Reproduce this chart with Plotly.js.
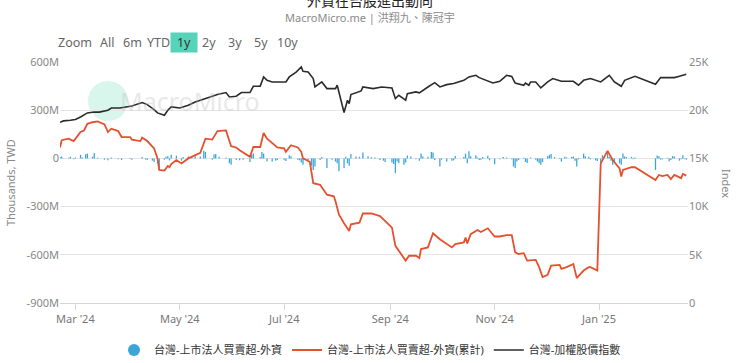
<!DOCTYPE html>
<html>
<head>
<meta charset="utf-8">
<script src="https://cdn.plot.ly/plotly-3.0.1.min.js"></script>
<style>
html,body{margin:0;padding:0;background:#fff;}
#chart{width:740px;height:363px;}
</style>
</head>
<body>
<div id="chart"></div>
<script>
// ---- Data ----
// Daily foreign net buy/sell (unit: M of thousand TWD)
const barDates = ["2024-02-21","2024-02-22","2024-02-26","2024-02-27","2024-02-29","2024-03-01","2024-03-04","2024-03-05","2024-03-07","2024-03-08","2024-03-11","2024-03-12","2024-03-14","2024-03-18","2024-03-20","2024-03-22","2024-03-26","2024-03-28","2024-04-02","2024-04-03","2024-04-09","2024-04-11","2024-04-12","2024-04-15","2024-04-16","2024-04-18","2024-04-19","2024-04-22","2024-04-23","2024-04-24","2024-04-25","2024-04-26","2024-04-29","2024-05-02","2024-05-03","2024-05-06","2024-05-08","2024-05-10","2024-05-13","2024-05-15","2024-05-16","2024-05-20","2024-05-21","2024-05-22","2024-05-24","2024-05-28","2024-05-30","2024-05-31","2024-06-03","2024-06-05","2024-06-07","2024-06-11","2024-06-12","2024-06-13","2024-06-17","2024-06-18","2024-06-19","2024-06-21","2024-06-24","2024-06-26","2024-06-27","2024-07-01","2024-07-02","2024-07-04","2024-07-05","2024-07-09","2024-07-10","2024-07-11","2024-07-12","2024-07-15","2024-07-17","2024-07-18","2024-07-19","2024-07-22","2024-07-23","2024-07-26","2024-07-29","2024-07-31","2024-08-01","2024-08-02","2024-08-05","2024-08-06","2024-08-07","2024-08-08","2024-08-09","2024-08-12","2024-08-14","2024-08-16","2024-08-19","2024-08-21","2024-08-23","2024-08-26","2024-08-28","2024-08-29","2024-09-02","2024-09-03","2024-09-04","2024-09-05","2024-09-06","2024-09-09","2024-09-10","2024-09-11","2024-09-13","2024-09-16","2024-09-18","2024-09-19","2024-09-20","2024-09-23","2024-09-25","2024-09-26","2024-09-27","2024-09-30","2024-10-01","2024-10-04","2024-10-07","2024-10-08","2024-10-09","2024-10-14","2024-10-15","2024-10-16","2024-10-17","2024-10-18","2024-10-21","2024-10-22","2024-10-23","2024-10-24","2024-10-25","2024-10-28","2024-10-29","2024-11-01","2024-11-04","2024-11-06","2024-11-08","2024-11-11","2024-11-12","2024-11-13","2024-11-14","2024-11-15","2024-11-18","2024-11-19","2024-11-20","2024-11-22","2024-11-25","2024-11-26","2024-11-27","2024-11-28","2024-11-29","2024-12-02","2024-12-03","2024-12-04","2024-12-06","2024-12-09","2024-12-10","2024-12-12","2024-12-13","2024-12-16","2024-12-17","2024-12-18","2024-12-19","2024-12-20","2024-12-23","2024-12-24","2024-12-26","2024-12-27","2024-12-30","2024-12-31","2025-01-02","2025-01-03","2025-01-06","2025-01-07","2025-01-08","2025-01-09","2025-01-10","2025-01-13","2025-01-14","2025-01-15","2025-01-16","2025-01-17","2025-01-20","2025-01-21","2025-01-22","2025-02-03","2025-02-04","2025-02-05","2025-02-06","2025-02-07","2025-02-10","2025-02-11","2025-02-12","2025-02-13","2025-02-14","2025-02-17","2025-02-18","2025-02-19","2025-02-20","2025-02-21"];
const barVals = [8,12,4,10,-6,6,22,6,26,30,10,34,4,-8,-12,6,-6,-10,-4,-8,8,-6,-10,-14,-22,-30,-72,-8,10,14,-12,22,16,-14,8,12,10,14,12,48,40,-8,24,28,10,6,-30,-40,-10,-12,-8,-22,22,30,8,40,30,-18,-20,-14,-10,-8,-16,20,14,-8,-12,-26,-40,-10,-45,-72,-50,-10,8,-60,-8,-20,-30,-80,-60,10,-30,-45,28,12,10,36,14,8,6,-10,-14,-22,-26,-35,-92,-20,-30,-40,-25,18,12,-6,-14,30,12,10,40,36,-10,-50,-8,-20,-14,-12,15,8,30,-30,44,14,20,6,-10,-8,8,16,-12,-36,-6,8,6,-6,-50,-60,-20,-10,4,-22,-28,6,-8,-20,-30,-40,-22,14,22,28,8,-4,-20,10,6,8,12,-14,-50,-6,30,14,10,-6,-12,-16,-31,20,40,10,-14,-40,-20,-32,-40,30,12,8,10,-6,6,-72,18,14,-8,-6,4,-18,-10,14,12,-14,-6,20,-4,-8];

// Year-to-date cumulative foreign net buy/sell (unit: M of thousand TWD)
const cumDates = ["2024-02-21","2024-02-22","2024-02-26","2024-02-29","2024-03-04","2024-03-06","2024-03-08","2024-03-11","2024-03-14","2024-03-18","2024-03-20","2024-03-22","2024-03-26","2024-03-28","2024-04-02","2024-04-03","2024-04-08","2024-04-09","2024-04-12","2024-04-16","2024-04-18","2024-04-19","2024-04-22","2024-04-24","2024-04-25","2024-04-26","2024-04-29","2024-05-02","2024-05-06","2024-05-09","2024-05-13","2024-05-16","2024-05-20","2024-05-23","2024-05-28","2024-05-31","2024-06-03","2024-06-05","2024-06-11","2024-06-13","2024-06-17","2024-06-19","2024-06-21","2024-06-27","2024-07-01","2024-07-02","2024-07-05","2024-07-09","2024-07-11","2024-07-12","2024-07-16","2024-07-18","2024-07-22","2024-07-26","2024-07-30","2024-07-31","2024-08-02","2024-08-05","2024-08-08","2024-08-09","2024-08-14","2024-08-16","2024-08-21","2024-08-26","2024-08-29","2024-09-02","2024-09-04","2024-09-06","2024-09-10","2024-09-12","2024-09-16","2024-09-18","2024-09-19","2024-09-23","2024-09-26","2024-09-30","2024-10-04","2024-10-07","2024-10-09","2024-10-14","2024-10-15","2024-10-16","2024-10-18","2024-10-22","2024-10-24","2024-10-28","2024-11-01","2024-11-04","2024-11-08","2024-11-11","2024-11-13","2024-11-15","2024-11-18","2024-11-20","2024-11-25","2024-11-27","2024-11-29","2024-12-02","2024-12-04","2024-12-09","2024-12-10","2024-12-13","2024-12-17","2024-12-19","2024-12-23","2024-12-26","2024-12-27","2024-12-31","2025-01-02","2025-01-03","2025-01-06","2025-01-09","2025-01-13","2025-01-14","2025-01-15","2025-01-20","2025-01-22","2025-02-03","2025-02-05","2025-02-07","2025-02-10","2025-02-12","2025-02-14","2025-02-18","2025-02-19","2025-02-21"];
const cumVals = [68,113,123,108,164,174,215,225,230,211,164,185,170,133,133,117,108,129,108,62,0,-72,-76,-47,-55,-35,-10,-31,0,14,35,123,117,170,174,76,68,51,10,71,71,158,123,68,62,41,82,68,41,0,-21,-154,-164,-226,-236,-267,-349,-404,-452,-410,-400,-343,-343,-359,-390,-431,-544,-575,-636,-606,-606,-620,-564,-554,-466,-503,-534,-554,-534,-523,-492,-529,-472,-446,-458,-435,-486,-486,-478,-478,-585,-595,-590,-636,-632,-677,-738,-724,-667,-663,-687,-677,-657,-745,-698,-677,-677,-698,-31,-10,47,-10,-62,-113,-72,-55,-55,-134,-103,-110,-103,-129,-103,-123,-97,-107];

// TAIEX
const idxDates = ["2024-02-21","2024-02-23","2024-02-27","2024-03-01","2024-03-04","2024-03-08","2024-03-12","2024-03-15","2024-03-20","2024-03-22","2024-03-27","2024-04-01","2024-04-03","2024-04-09","2024-04-12","2024-04-16","2024-04-18","2024-04-22","2024-04-24","2024-04-26","2024-05-01","2024-05-06","2024-05-10","2024-05-17","2024-05-23","2024-05-28","2024-05-30","2024-06-03","2024-06-06","2024-06-11","2024-06-13","2024-06-17","2024-06-19","2024-06-21","2024-06-24","2024-06-27","2024-07-02","2024-07-04","2024-07-08","2024-07-11","2024-07-12","2024-07-15","2024-07-18","2024-07-19","2024-07-23","2024-07-26","2024-07-31","2024-08-01","2024-08-05","2024-08-07","2024-08-08","2024-08-09","2024-08-15","2024-08-16","2024-08-22","2024-08-27","2024-09-02","2024-09-04","2024-09-06","2024-09-10","2024-09-11","2024-09-16","2024-09-18","2024-09-23","2024-09-27","2024-09-30","2024-10-04","2024-10-08","2024-10-14","2024-10-17","2024-10-21","2024-10-23","2024-10-31","2024-11-04","2024-11-08","2024-11-11","2024-11-13","2024-11-18","2024-11-19","2024-11-21","2024-11-22","2024-11-25","2024-11-28","2024-12-02","2024-12-05","2024-12-10","2024-12-17","2024-12-20","2024-12-23","2024-12-27","2025-01-02","2025-01-07","2025-01-10","2025-01-14","2025-01-16","2025-01-22","2025-02-03","2025-02-06","2025-02-10","2025-02-14","2025-02-17","2025-02-21"];
const idxVals = [18750,18890,18960,19030,19300,19720,19820,19800,20000,20230,20230,20340,20440,20790,20580,20060,19720,19480,20000,20340,20230,20510,20860,21270,21620,21830,21370,21450,21830,21830,22480,22500,23450,23100,22930,22930,22930,23450,23960,24480,24030,23960,23280,22410,22930,22240,22240,22590,19760,21030,20690,21620,22000,22410,22240,22410,22300,21200,21550,21030,21720,21900,21800,22410,22860,22410,22650,22760,23100,23450,23620,23380,22820,23000,23620,23500,22820,22590,22820,22590,22930,22930,22310,22930,23280,23000,23000,22590,23100,23280,22930,23620,22930,22480,23100,23520,22690,23380,23380,23380,23520,23720];

// Tick labels
const leftTickVals = [-900,-600,-300,0,300,600];
const leftTickText = ["-900M","-600M","-300M","0","300M","600M"];
const rightTickVals = [0,5000,10000,15000,20000,25000];
const rightTickText = ["0","5K","10K","15K","20K","25K"];
const seriesNames = ["台灣-上市法人買賣超-外資","台灣-上市法人買賣超-外資(累計)","台灣-加權股價指數"];
const rangeButtons = ["All","6m","YTD","1y","2y","3y","5y","10y"];

const FONT = "Noto Sans, Noto Sans CJK TC, sans-serif";
const BLUE = "#3aa6d8", RED = "#e5512f", BLACK = "#2b2b2b";

const traces = [
  {type:"bar", x:barDates, y:barVals, name:seriesNames[0], marker:{color:BLUE}, showlegend:false, yaxis:"y", hoverinfo:"x+y"},
  {type:"scatter", mode:"markers", x:[null], y:[null], name:seriesNames[0], marker:{color:BLUE, size:12, symbol:"circle"}, showlegend:true, hoverinfo:"skip"},
  {type:"scatter", mode:"lines", x:cumDates, y:cumVals, name:seriesNames[1], line:{color:RED, width:1.8}, yaxis:"y"},
  {type:"scatter", mode:"lines", x:idxDates, y:idxVals, name:seriesNames[2], line:{color:BLACK, width:1.6}, yaxis:"y2"}
];

const W = 628, H = 241, L = 60, T = 62;
const px = x => (x - L) / W;
const py = y => (T + H - y) / H;

const btnX = [107,132.5,158,184,209,235,261,287];
const annotations = [
  {text:"外資在台股進出動向", x:px(370), y:py(0), xref:"paper", yref:"paper", showarrow:false, font:{family:FONT, size:14, color:"#222"}, xanchor:"center", yanchor:"middle"},
  {text:"MacroMicro.me | 洪翔九、陳冠宇", x:px(370), y:py(17), xref:"paper", yref:"paper", showarrow:false, font:{family:FONT, size:11, color:"#8a8a8a"}, xanchor:"center", yanchor:"middle"},
  {text:"Zoom", x:px(75), y:py(42), xref:"paper", yref:"paper", showarrow:false, font:{family:FONT, size:12.5, color:"#666"}, xanchor:"center", yanchor:"middle"},
  {text:"Thousands, TWD", x:px(10), y:py(183), xref:"paper", yref:"paper", showarrow:false, textangle:-90, font:{family:FONT, size:11, color:"#888"}, xanchor:"center", yanchor:"middle"},
  {text:"Index", x:px(727), y:py(183), xref:"paper", yref:"paper", showarrow:false, textangle:90, font:{family:FONT, size:11, color:"#888"}, xanchor:"center", yanchor:"middle"},
  {text:"MacroMicro", x:px(190), y:py(101), xref:"paper", yref:"paper", showarrow:false, font:{family:FONT, size:25, color:"rgba(190,190,190,0.35)"}, xanchor:"center", yanchor:"middle"}
];
rangeButtons.forEach((b,i) => {
  const active = b === "1y";
  annotations.push({text:b, x:px(btnX[i]), y:py(42), xref:"paper", yref:"paper", showarrow:false,
    font:{family:FONT, size:12.5, color: active ? "#333" : "#666"}, xanchor:"center", yanchor:"middle",
    bgcolor: active ? "#55d4b9" : "rgba(0,0,0,0)", borderpad: active ? 2 : 0, width: active ? 22 : null, height: active ? 15 : null});
});

const layout = {
  width:740, height:363,
  margin:{l:60, r:52, t:62, b:60, autoexpand:false},
  paper_bgcolor:"#fff", plot_bgcolor:"#fff",
  font:{family:FONT, color:"#777", size:11},
  showlegend:true,
  legend:{orientation:"h", xref:"container", yref:"container", x:370/740, y:1-350/363, xanchor:"center", yanchor:"middle", font:{family:FONT, size:11, color:"#333"}, itemwidth:30, traceorder:"normal"},
  bargap:0.25,
  xaxis:{type:"date", range:["2024-02-21","2025-02-22"], tick0:"2024-03-01", dtick:"M2", tickformat:"%b '%y",
    showgrid:false, showline:true, linecolor:"#d6d6d6", ticks:"outside", ticklen:6, tickcolor:"#d6d6d6",
    tickfont:{family:FONT, size:11, color:"#777"}, zeroline:false, fixedrange:true, automargin:false},
  yaxis:{range:[-900,600], tickvals:leftTickVals, ticktext:leftTickText, gridcolor:"#e6e6e6", zeroline:false,
    tickfont:{family:FONT, size:11, color:"#888"}, ticks:"", fixedrange:true, automargin:false},
  yaxis2:{overlaying:"y", side:"right", range:[0,25000], tickvals:rightTickVals, ticktext:rightTickText, showgrid:false,
    zeroline:false, tickfont:{family:FONT, size:11, color:"#888"}, fixedrange:true, automargin:false},
  shapes:[
    {type:"circle", xref:"paper", yref:"paper", x0:px(88), x1:px(128), y0:py(81), y1:py(121), fillcolor:"rgba(130,225,195,0.3)", line:{width:0}, layer:"below"}
  ],
  annotations:annotations
};

Plotly.newPlot("chart", traces, layout, {displayModeBar:false, staticPlot:true});
</script>
</body>
</html>
